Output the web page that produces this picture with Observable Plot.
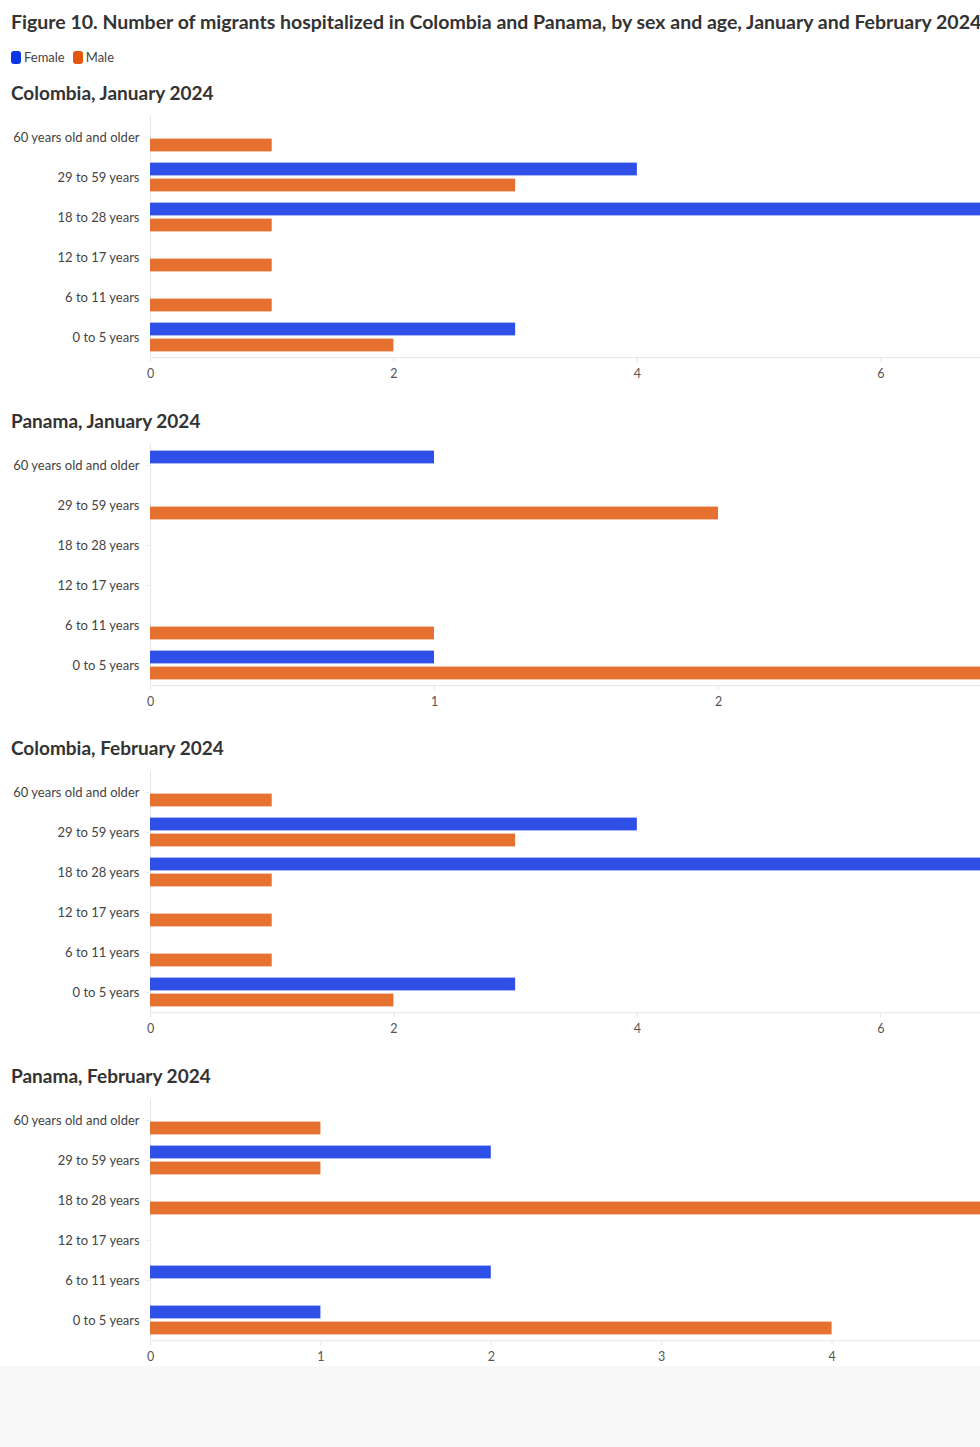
<!DOCTYPE html>
<html><head><meta charset="utf-8">
<script src="https://cdn.jsdelivr.net/npm/d3@7"></script>
<script src="https://cdn.jsdelivr.net/npm/@observablehq/plot@0.6"></script>
<style>
html,body{margin:0;padding:0;overflow:hidden;background:#f8f8f8;}
#chart{background:#fff;width:980px;overflow:hidden;font-family:Lato,"Noto Sans",sans-serif;color:#333;}
h1{margin:0;padding:8px 0 0 11px;font-size:19.5px;line-height:28px;font-weight:700;white-space:nowrap;color:#333;}
.legend{margin-top:13px;padding-left:11px;height:16px;line-height:16px;font-size:13px;color:#444;display:flex;align-items:center;}
.sw{display:inline-block;width:10px;height:13px;border-radius:3px;margin-right:3px;}
.li{display:flex;align-items:center;margin-right:8px;}
.ptitle{padding-left:11px;height:24px;line-height:24px;font-size:19px;font-weight:700;color:#333;white-space:nowrap;}
#panels{margin-top:16px;}
svg{display:block;overflow:visible;max-width:none !important;}
</style></head>
<body>
<div id="chart">
<h1 id="title"></h1>
<div class="legend" id="legend"></div>
<div id="panels"></div>
</div>
<script>
const chartTitle = "Figure 10. Number of migrants hospitalized in Colombia and Panama, by sex and age, January and February 2024";
const sexes = ["Female", "Male"];
const sexColors = ["#2e50e6", "#e5702f"];
const legendColors = ["#0b36e6", "#e2560e"];
const ages = ["60 years old and older", "29 to 59 years", "18 to 28 years", "12 to 17 years", "6 to 11 years", "0 to 5 years"];

const panelTitles = ["Colombia, January 2024", "Panama, January 2024", "Colombia, February 2024", "Panama, February 2024"];
const colJanFemale = [0, 4, 7, 0, 0, 3];
const colJanMale   = [1, 3, 1, 1, 1, 2];
const panJanFemale = [1, 0, 0, 0, 0, 1];
const panJanMale   = [0, 2, 0, 0, 1, 3];
const colFebFemale = [0, 4, 7, 0, 0, 3];
const colFebMale   = [1, 3, 1, 1, 1, 2];
const panFebFemale = [0, 2, 0, 0, 2, 1];
const panFebMale   = [1, 1, 5, 0, 0, 4];
const colTicks = [0, 2, 4, 6];
const panJanTicks = [0, 1, 2];
const panFebTicks = [0, 1, 2, 3, 4];

const panels = [
  {title: panelTitles[0], female: colJanFemale, male: colJanMale, ticks: colTicks},
  {title: panelTitles[1], female: panJanFemale, male: panJanMale, ticks: panJanTicks},
  {title: panelTitles[2], female: colFebFemale, male: colFebMale, ticks: colTicks},
  {title: panelTitles[3], female: panFebFemale, male: panFebMale, ticks: panFebTicks}
];

document.getElementById("title").textContent = chartTitle;
const leg = document.getElementById("legend");
sexes.forEach((s, i) => {
  const item = document.createElement("span");
  item.className = "li";
  item.innerHTML = `<span class="sw" style="background:${legendColors[i]}"></span>${s}`;
  leg.appendChild(item);
});

const holder = document.getElementById("panels");
panels.forEach((p, k) => {
  const t = document.createElement("div");
  t.className = "ptitle";
  t.textContent = p.title;
  holder.appendChild(t);
  const rows = [];
  ages.forEach((a, i) => {
    rows.push({age: a, sex: "Female", value: p.female[i]});
    rows.push({age: a, sex: "Male", value: p.male[i]});
  });
  const last = k === panels.length - 1;
  const mt = 11, band = 40.2, mb = last ? 26 : 51.3;
  const plot = Plot.plot({
    width: 1010,
    height: mt + band * ages.length + mb,
    marginLeft: 150,
    marginRight: 8,
    marginTop: mt,
    marginBottom: mb,
    style: {fontFamily: "Lato, 'Noto Sans', sans-serif", fontSize: "12px", color: "#555", background: "transparent", maxWidth: "none"},
    x: {domain: [0, d3.max(rows, d => d.value)], ticks: p.ticks, tickFormat: d3.format("d")},
    y: {domain: ages, padding: 0},
    marks: [
      Plot.frame({anchor: "bottom", stroke: "#e6e6e6"}),
      Plot.ruleX([0], {stroke: "#e6e6e6"}),
      Plot.barX(rows.filter(d => d.sex === "Female" && d.value > 0), {x: "value", y: "age", fill: sexColors[0], dy: -8, insetTop: 13.6, insetBottom: 13.6}),
      Plot.barX(rows.filter(d => d.sex === "Male" && d.value > 0), {x: "value", y: "age", fill: sexColors[1], dy: 8, insetTop: 13.6, insetBottom: 13.6}),
      Plot.axisX({ticks: p.ticks, tickSize: 5, tickPadding: 6, stroke: "#e6e6e6", fill: "#555", fontSize: 12.5, label: null, tickFormat: d3.format("d")}),
      Plot.axisY({tickSize: 5, tickPadding: 6, stroke: "#eeeeee", fill: "#444", fontSize: 13, label: null})
    ]
  });
  holder.appendChild(plot);
});
</script>
</body></html>
